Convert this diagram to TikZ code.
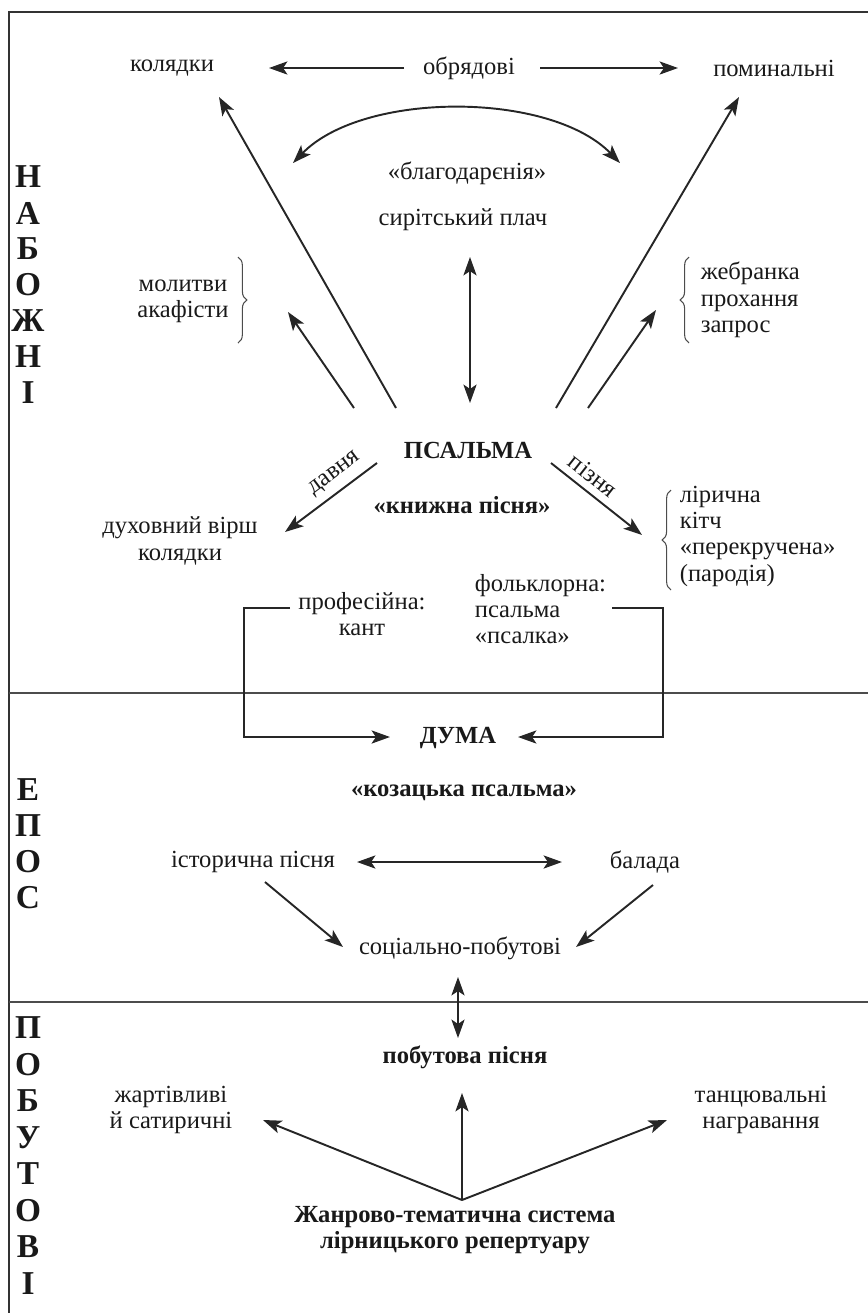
\documentclass[tikz,border=0pt]{standalone}
\usepackage{fontspec}
\setmainfont{Liberation Serif}
\usetikzlibrary{arrows.meta, calc, decorations.pathreplacing}

\begin{document}
\begin{tikzpicture}[x=0.02cm, y=-0.02cm, font=\fontsize{14}{15}\selectfont,
    >={Stealth[length=10.5pt, width=7.5pt, inset=2.5pt]},
    tekst/.style={text=black!90, inner sep=2pt, align=center},
    glava/.style={tekst, font=\fontsize{14}{15}\selectfont\bfseries},
    oznaka/.style={tekst, sloped, above, inner sep=4pt},
    litera/.style={text=black!90, inner sep=0pt, font=\fontsize{19}{19}\selectfont\bfseries},
    tok/.style={->, line width=1.1pt, draw=black!85},
    dtok/.style={<->, line width=1.1pt, draw=black!85},
    okvir/.style={line width=1.6pt, draw=black!80},
    granica/.style={line width=1.4pt, draw=black!70},
    duzka/.style={decorate, decoration={brace, amplitude=5pt}, line width=0.6pt, draw=black!70}]

    \useasboundingbox (0,0) rectangle (868,1313);

    % ---------------- ramka i smuhy ----------------
    \draw [okvir] (9,1313) -- (9,12) -- (868,12);
    \draw [granica] (9,693) -- (868,693);
    \draw [granica] (9,1002) -- (868,1002);

    \foreach \l [count=\i] in {Н,А,Б,О,Ж,Н,І}
        \node (nab\i) [litera] at (28,141+36*\i) {\l};
    \foreach \l [count=\i] in {Е,П,О,С}
        \node (ep\i) [litera] at (28,754+36*\i) {\l};
    \foreach \l [count=\i] in {П,О,Б,У,Т,О,В,І}
        \node (pob\i) [litera] at (28,991.5+36.5*\i) {\l};

    % ---------------- nabozhni ----------------
    \node (kol)   [tekst] at (172,68)  {колядки};
    \node (obr)   [tekst] at (469,68)  {обрядові};
    \node (pom)   [tekst] at (774,68)  {поминальні};
    \node (blag)  [tekst] at (467,173) {«благодарєнія»};
    \node (syr)   [tekst] at (463,220) {сирітський плач};
    \node (mol)   [tekst] at (183,301) {молитви\\акафісти};
    \node (zheb)  [tekst, anchor=west, align=left] at (697,300) {жебранка\\прохання\\запрос};
    \node (psal)  [glava] at (468,450) {ПСАЛЬМА};
    \node (knyzh) [glava] at (462,505) {«книжна пісня»};
    \node (duh)   [tekst] at (180,541) {духовний вірш\\колядки};
    \node (lir)   [tekst, anchor=west, align=left] at (676,536) {лірична\\кітч\\«перекручена»\\(пародія)};
    \node (prof)  [tekst] at (362,614) {професійна:\\кант};
    \node (folk)  [tekst, anchor=west, align=left] at (471,609) {фольклорна:\\псальма\\«псалка»};

    % ---------------- epos ----------------
    \node (duma)  [glava] at (458,738) {ДУМА};
    \node (koz)   [glava] at (464,793) {«козацька псальма»};
    \node (ist)   [tekst] at (253,862) {історична пісня};
    \node (bal)   [tekst] at (645,862) {балада};
    \node (soc)   [tekst] at (460,948) {соціально-побутові};

    % ---------------- pobutovi ----------------
    \node (pobut) [glava] at (465,1057) {побутова пісня};
    \node (zhart) [tekst] at (171,1110) {жартівливі\\й сатиричні};
    \node (tanc)  [tekst] at (761,1110) {танцювальні\\награвання};
    \node (zhanr) [glava] at (455,1230) {Жанрово-тематична система\\лірницького репертуару};

    % ---------------- zviazky ----------------
    \draw [tok] ($(obr)+(-65,0)$) -- ($(kol)+(97,0)$);
    \draw [tok] ($(obr)+(71,0)$) -- ($(pom)+(-96,0)$);
    \draw [dtok] ($(blag)+(-174,-10)$) .. controls ($(blag)+(-104,-82)$) and ($(blag)+(83,-82)$) .. ($(blag)+(153,-10)$);
    \draw [dtok] ($(syr)+(7,37)$) -- ($(psal)+(2,-47)$);
    \draw [tok] ($(psal)+(-72,-42)$) -- ($(kol)+(47,29)$);
    \draw [tok] ($(psal)+(-114,-42)$) -- ($(mol)+(105,11)$);
    \draw [tok] ($(psal)+(88,-42)$) -- ($(pom)+(-35,29)$);
    \draw [tok] ($(psal)+(120,-42)$) -- ($(zheb.west)+(-41,10)$);
    \draw [tok] ($(psal)+(-91,13)$) -- node[oznaka, pos=0.35] {давня} ($(duh)+(105,-9)$);
    \draw [tok] ($(psal)+(83,13)$) -- node[oznaka, pos=0.35] {пізня} ($(lir.west)+(-34,-1)$);
    \draw [tok] ($(prof)+(-72,-6)$) -- ++(-46,0) |- ($(duma)+(-68,-1)$);
    \draw [tok] ($(folk.west)+(141,-1)$) -- ++(51,0) |- ($(duma)+(60,-1)$);

    \draw [dtok] ($(ist)+(104,0)$) -- ($(bal)+(-83,0)$);
    \draw [tok] ($(ist)+(12,20)$) -- ($(soc)+(-117,-1)$);
    \draw [tok] ($(bal)+(8,23)$) -- ($(soc)+(116,-1)$);
    \draw [dtok] ($(soc)+(-2,29)$) -- ($(pobut)+(-7,-19)$);

    \draw [tok] ($(zhanr)+(7,-30)$) -- ($(zhart)+(92,10)$);
    \draw [tok] ($(zhanr)+(7,-30)$) -- ($(pobut)+(-3,36)$);
    \draw [tok] ($(zhanr)+(7,-30)$) -- ($(tanc)+(-94,10)$);

    % ---------------- duzhky ----------------
    \draw [duzka] ($(mol)+(55,-44)$) -- ($(mol)+(55,42)$);
    \draw [duzka] ($(zheb.west)+(-8,43)$) -- ($(zheb.west)+(-8,-43)$);
    \draw [duzka] ($(lir.west)+(-5,54)$) -- ($(lir.west)+(-5,-46)$);
\end{tikzpicture}
\end{document}
